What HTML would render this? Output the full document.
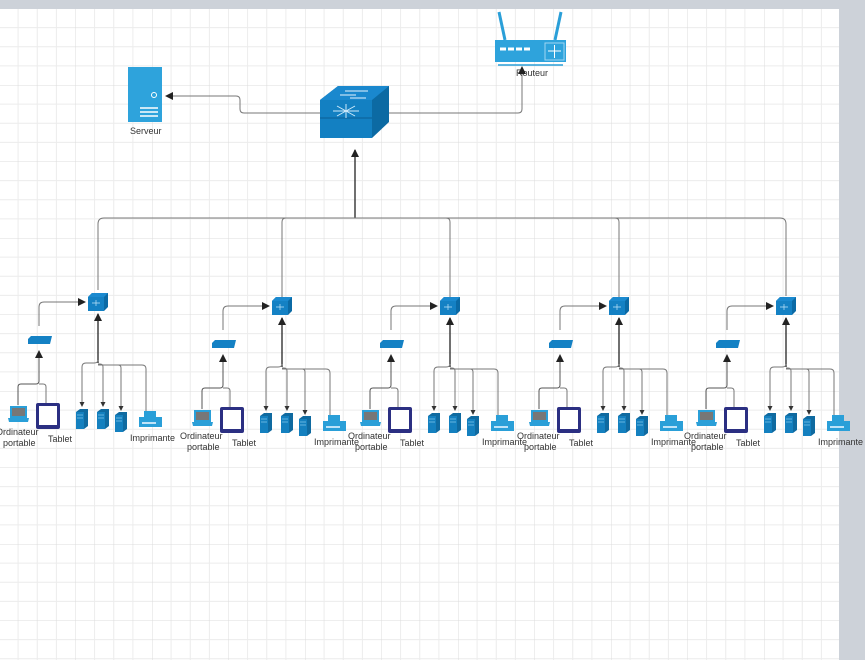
<!DOCTYPE html>
<html><head><meta charset="utf-8"><style>
html,body{margin:0;padding:0;width:865px;height:660px;overflow:hidden;background:#cdd2d9}
svg{position:absolute;left:0;top:0}
text{font-family:"Liberation Sans",sans-serif;font-size:9px;fill:#333}
</style></head><body>
<svg width="865" height="660" viewBox="0 0 865 660">
<defs>
<pattern id="g" x="-1" y="8.5" width="76.5" height="76.5" patternUnits="userSpaceOnUse">
<path d="M19.1 0V76.5M38.25 0V76.5M57.4 0V76.5M0 19.1H76.5M0 38.25H76.5M0 57.4H76.5" stroke="#ececec" stroke-width="1" fill="none"/>
<path d="M0 0V76.5M0 0H76.5" stroke="#dcdcdc" stroke-width="1" fill="none"/>
</pattern>
<marker id="a" markerWidth="8" markerHeight="8" refX="7" refY="4" orient="auto" markerUnits="userSpaceOnUse"><path d="M0 0L8 4L0 8z" fill="#222"/></marker>
<marker id="s" markerWidth="5" markerHeight="5" refX="4" refY="2.5" orient="auto" markerUnits="userSpaceOnUse"><path d="M0 0L5 2.5L0 5z" fill="#333"/></marker>
<g id="srv">
<path d="M0 3L4 0H12V17L8 20H0z" fill="#0f6aa0"/>
<rect x="0" y="3" width="8" height="17" fill="#1480bf"/>
<path d="M1 6H7M1 9H7" stroke="#7fc3ea" stroke-width="0.8"/>
</g>
<g id="grp">
<path d="M-10 -4L-6 -8H10V6L6 10H-10z" fill="#0b6aa5"/>
<path d="M-10 -4L-6 -8H10L6 -4z" fill="#1b8ad0"/>
<rect x="-10" y="-4" width="16" height="14" fill="#1481c4"/>
<path d="M-6 2H2M-2 -1V5" stroke="#bfe3f8" stroke-width="0.7"/>
<path d="M-70 38L-67 35H-46L-48 43H-70z" fill="#1481c4"/>
<path d="M-59 25V6Q-59 1 -54 1H-13" stroke="#777" fill="none" marker-end="url(#a)"/>
<path d="M-80 104V86Q-80 83 -77 83H-62Q-59 83 -59 80V50" stroke="#555" fill="none" marker-end="url(#a)"/>
<path d="M-52 102V86Q-52 83 -55 83H-59" stroke="#777" fill="none"/>
<path d="M0 62V13" stroke="#333" stroke-width="1.4" fill="none" marker-end="url(#a)"/>
<path d="M0 59Q0 62 -4 62H-12Q-16 62 -16 66V105" stroke="#777" fill="none" marker-end="url(#s)"/>
<path d="M0 63H2Q5 63 5 66V105" stroke="#777" fill="none" marker-end="url(#s)"/>
<path d="M0 64H20Q23 64 23 67V109" stroke="#777" fill="none" marker-end="url(#s)"/>
<path d="M20 64H44Q48 64 48 68V110" stroke="#777" fill="none"/>
<rect x="-88" y="105" width="17" height="12" fill="#2a9fd8"/>
<rect x="-86" y="107" width="13" height="8" fill="#777"/>
<path d="M-90 117H-69L-70 121H-89z" fill="#2a9fd8"/>
<rect x="-62" y="102" width="24" height="26" rx="2" fill="#2b2f82"/>
<rect x="-59" y="105" width="18" height="19" fill="#fff"/>
<use href="#srv" x="-22" y="108"/>
<use href="#srv" x="-1" y="108"/>
<use href="#srv" x="17" y="111"/>
<rect x="46" y="110" width="12" height="6" fill="#2a9fd8"/>
<path d="M41 116H64V126H41z" fill="#2a9fd8"/>
<rect x="44" y="121" width="14" height="2" fill="#bfe3f8"/>
<text x="-102" y="134">Ordinateur</text>
<text x="-95" y="145">portable</text>
<text x="-50" y="141">Tablet</text>
<text x="32" y="140">Imprimante</text>
</g>
</defs>
<rect x="0" y="9" width="839" height="651" fill="#fff"/>
<rect x="0" y="9" width="839" height="651" fill="url(#g)"/>
<rect x="128" y="67" width="34" height="55" fill="#2ea3dc"/>
<circle cx="154" cy="95" r="2.5" fill="none" stroke="#fff"/>
<path d="M140 108H158M140 112H158M140 116H158" stroke="#fff" stroke-width="1.5"/>
<text x="130" y="134">Serveur</text>
<path d="M499 12L505 40M561 12L555 40" stroke="#2a9fd8" stroke-width="3"/>
<rect x="495" y="40" width="71" height="22" fill="#2ea3dc"/>
<rect x="545" y="43" width="19" height="17" fill="none" stroke="#9fd6f2"/>
<path d="M500 49H506M508 49H514M516 49H522M524 49H530" stroke="#fff" stroke-width="3"/>
<path d="M548 51H561M554.5 45V58" stroke="#fff"/>
<path d="M498 65H563" stroke="#2a9fd8" stroke-width="1.5"/>
<text x="516" y="76">Routeur</text>
<path d="M320 100L338 86H389V122L372 138H320z" fill="#0c6aa3"/>
<path d="M320 100L338 86H389L372 100z" fill="#1a88ce"/>
<rect x="320" y="100" width="52" height="38" fill="#1380c2"/>
<path d="M320 118H372" stroke="#0b5e94"/>
<path d="M333 111H359M346 104V118M337 106L355 116M355 106L337 116" stroke="#cfeafb" stroke-width="1"/>
<path d="M340 95H356M345 91H368M350 98H366" stroke="#e6f5fd" stroke-width="1"/>
<path d="M320 113H244Q240 113 240 109V100Q240 96 236 96H166" stroke="#777" fill="none" marker-end="url(#a)"/>
<path d="M389 113H518Q522 113 522 109V67" stroke="#777" fill="none" marker-end="url(#a)"/>
<path d="M355 218V150" stroke="#333" stroke-width="1.4" fill="none" marker-end="url(#a)"/>
<path d="M98 290V224Q98 218 104 218H780Q786 218 786 224V296" stroke="#777" fill="none"/>
<path d="M282 297V222Q282 218 286 218M446 218Q450 218 450 222V297M615 218Q619 218 619 222V297" stroke="#777" fill="none"/>
<use href="#grp" transform="translate(98,301)"/>
<use href="#grp" transform="translate(282,305)"/>
<use href="#grp" transform="translate(450,305)"/>
<use href="#grp" transform="translate(619,305)"/>
<use href="#grp" transform="translate(786,305)"/>
</svg>
</body></html>
